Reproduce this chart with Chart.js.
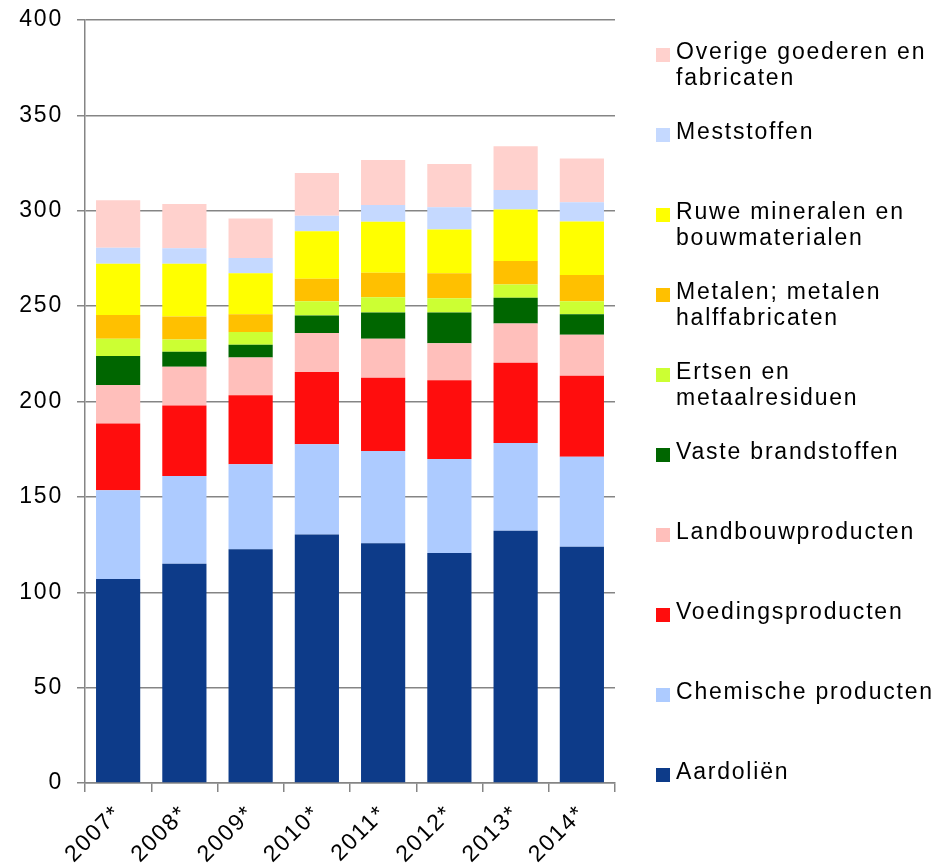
<!DOCTYPE html>
<html>
<head>
<meta charset="utf-8">
<script src="https://cdn.jsdelivr.net/npm/chart.js@4.4.1/dist/chart.umd.min.js"></script>
<style>
  html, body { margin: 0; padding: 0; background: #fff; }
  #wrap { position: relative; width: 941px; height: 866px; }
  #legend { position: absolute; left: 656px; top: 0; font-family: Arial, "Liberation Sans", sans-serif; font-size: 23px; letter-spacing: 1.8px; color: #000; }
  .item { position: absolute; left: 0; white-space: pre-line; line-height: 26px; padding-left: 20px; width: 285px; }
  .box { position: absolute; left: 0; top: 10px; width: 14px; height: 14px; }
</style>
</head>
<body>
<div id="wrap">
  <canvas id="chart" width="941" height="866"></canvas>
  <div id="legend"></div>
</div>
<script>
// Jaren (voorlopige cijfers)
const years = ['2007*', '2008*', '2009*', '2010*', '2011*', '2012*', '2013*', '2014*'];

// Waarden per goederengroep
const aardolien = [107.0, 115.0, 122.6, 130.3, 125.7, 120.6, 132.2, 123.8];
const chemisch = [46.5, 46.0, 44.5, 47.3, 48.4, 49.2, 46.0, 47.2];
const voeding = [35.0, 36.9, 36.2, 37.8, 38.3, 41.4, 42.1, 42.5];
const landbouw = [20.1, 20.3, 19.8, 20.5, 20.5, 19.4, 20.6, 21.5];
const vasteBrandstof = [15.2, 7.9, 6.6, 9.2, 13.8, 16.1, 13.5, 10.8];
const ertsen = [9.1, 6.4, 6.7, 7.5, 7.9, 7.4, 7.0, 6.7];
const metalen = [12.4, 12.1, 9.4, 11.7, 12.9, 13.2, 12.2, 13.8];
const ruweMineralen = [26.9, 27.6, 21.4, 24.9, 26.7, 22.9, 27.1, 28.1];
const meststoffen = [8.4, 8.2, 8.0, 8.2, 8.8, 11.7, 10.2, 10.1];
const overige = [24.9, 23.1, 20.8, 22.4, 23.6, 22.6, 22.9, 22.9];

const yTicks = [0, 50, 100, 150, 200, 250, 300, 350, 400];

const series = [
  { label: 'Aardoliën', data: aardolien, color: '#0D3B89' },
  { label: 'Chemische producten', data: chemisch, color: '#ADCBFF' },
  { label: 'Voedingsproducten', data: voeding, color: '#FF0D0D' },
  { label: 'Landbouwproducten', data: landbouw, color: '#FFBFBB' },
  { label: 'Vaste brandstoffen', data: vasteBrandstof, color: '#006600' },
  { label: 'Ertsen en\nmetaalresiduen', data: ertsen, color: '#CCFF33' },
  { label: 'Metalen; metalen\nhalffabricaten', data: metalen, color: '#FFC000' },
  { label: 'Ruwe mineralen en\nbouwmaterialen', data: ruweMineralen, color: '#FFFF00' },
  { label: 'Meststoffen', data: meststoffen, color: '#C5D9FF' },
  { label: 'Overige goederen en\nfabricaten', data: overige, color: '#FFD1CD' }
];

const font = { family: 'Arial, "Liberation Sans", sans-serif', size: 23 };
const gridColor = '#858585';

// de tekst in het origineel is iets breder; beetje letterafstand op het canvas
const spacing = {
  id: 'spacing',
  beforeUpdate(chart) { chart.ctx.letterSpacing = '1.8px'; },
  beforeDraw(chart) { chart.ctx.letterSpacing = '1.8px'; }
};

const ctx = document.getElementById('chart').getContext('2d');
const chart = new Chart(ctx, {
  type: 'bar',
  data: {
    labels: years,
    datasets: series.map(s => ({
      label: s.label,
      data: s.data,
      backgroundColor: s.color,
      borderWidth: 0,
      categoryPercentage: 1,
      barPercentage: 0.667
    }))
  },
  plugins: [spacing],
  options: {
    responsive: false,
    animation: false,
    layout: { padding: { top: 20, right: 326, left: 0, bottom: 0 } },
    plugins: {
      legend: { display: false },
      tooltip: { enabled: false }
    },
    scales: {
      x: {
        stacked: true,
        afterFit: scale => { scale.height = 83; },
        grid: { display: true, drawOnChartArea: false, drawTicks: true, tickLength: 9, offset: true, color: gridColor, lineWidth: 1.5 },
        border: { display: true, color: gridColor, width: 1.5 },
        ticks: { font: font, color: '#000', minRotation: 45, maxRotation: 45, padding: 8 }
      },
      y: {
        stacked: true,
        min: 0,
        max: 400,
        afterFit: scale => {
          scale.width = 85;
          scale.paddingTop = 0;
          scale.paddingBottom = 0;
        },
        afterBuildTicks: scale => { scale.ticks = yTicks.map(v => ({ value: v })); },
        grid: { color: gridColor, lineWidth: 1.5, drawTicks: true, tickLength: 8 },
        border: { display: true, color: gridColor, width: 1.5 },
        ticks: { font: font, color: '#000', padding: 14 }
      }
    }
  }
});

// Legenda rechts, in omgekeerde volgorde (bovenste laag eerst)
const legend = document.getElementById('legend');
series.slice().reverse().forEach((s, i) => {
  const item = document.createElement('div');
  item.className = 'item';
  item.style.top = (38 + 80 * i) + 'px';
  const box = document.createElement('span');
  box.className = 'box';
  box.style.background = s.color;
  item.appendChild(box);
  item.appendChild(document.createTextNode(s.label));
  legend.appendChild(item);
});
</script>
</body>
</html>
